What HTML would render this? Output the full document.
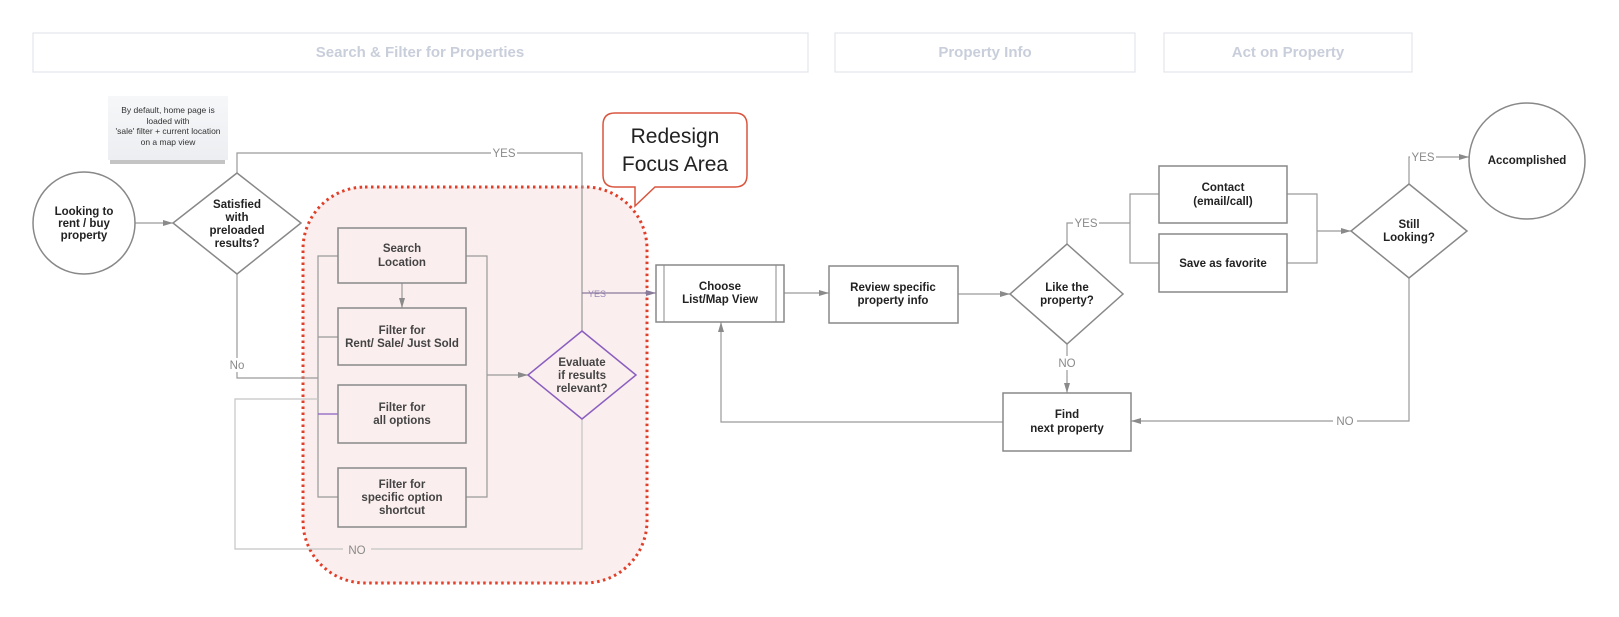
<!DOCTYPE html>
<html><head><meta charset="utf-8"><style>
html,body{margin:0;padding:0;background:#fff;}
svg{display:block;}
.b{font-family:"Liberation Sans",sans-serif;font-weight:bold;font-size:11.5px;fill:#222;text-anchor:middle;}
.l{font-family:"Liberation Sans",sans-serif;font-size:11.5px;fill:#8a8a8a;text-anchor:middle;}
.h{font-family:"Liberation Sans",sans-serif;font-weight:bold;font-size:15px;fill:#c9cedb;text-anchor:middle;}
</style></head><body>
<svg width="1619" height="617" viewBox="0 0 1619 617" xmlns="http://www.w3.org/2000/svg">
<defs>
<marker id="a" markerWidth="10" markerHeight="8" refX="10" refY="4" orient="auto" markerUnits="userSpaceOnUse"><path d="M0,1 L10,4 L0,7 Z" fill="#8a8a8a"/></marker>
<marker id="ap" markerWidth="10" markerHeight="8" refX="10" refY="4" orient="auto" markerUnits="userSpaceOnUse"><path d="M0,1 L10,4 L0,7 Z" fill="#8a7a9a"/></marker>
<linearGradient id="ng" x1="0" y1="0" x2="0" y2="1"><stop offset="0" stop-color="#f6f7f9"/><stop offset="1" stop-color="#eceef1"/></linearGradient>
</defs>
<!-- headers -->
<rect x="33" y="33" width="775" height="39" fill="#fff" stroke="#e2e5ec" stroke-width="1.2"/>
<text class="h" x="420" y="57">Search &amp; Filter for Properties</text>
<rect x="835" y="33" width="300" height="39" fill="#fff" stroke="#e2e5ec" stroke-width="1.2"/>
<text class="h" x="985" y="57">Property Info</text>
<rect x="1164" y="33" width="248" height="39" fill="#fff" stroke="#e2e5ec" stroke-width="1.2"/>
<text class="h" x="1288" y="57">Act on Property</text>

<!-- note -->
<rect x="110" y="160" width="115" height="4" fill="#555" opacity="0.35"/>
<rect x="108" y="96" width="120" height="64" fill="url(#ng)"/>
<g font-family="Liberation Sans,sans-serif" font-size="8.5" fill="#333" text-anchor="middle">
<text x="168" y="113">By default, home page is</text>
<text x="168" y="124">loaded with</text>
<text x="168" y="134">'sale' filter + current location</text>
<text x="168" y="145">on a map view</text>
</g>

<!-- focus area -->
<rect x="303" y="187" width="344" height="396" rx="62" fill="#fbeeee" stroke="#e0402a" stroke-width="3" stroke-dasharray="2.5 3.5"/>

<!-- callout -->
<path d="M615,113 H735 Q747,113 747,125 V175 Q747,187 735,187 H655 L635,206 L635,187 H615 Q603,187 603,175 V125 Q603,113 615,113 Z" fill="#fff" stroke="#d9553e" stroke-width="1.5"/>
<text x="675" y="143" font-family="Liberation Sans,sans-serif" font-size="21" fill="#222" text-anchor="middle">Redesign</text>
<text x="675" y="171" font-family="Liberation Sans,sans-serif" font-size="21" fill="#222" text-anchor="middle">Focus Area</text>

<g fill="none" stroke="#9a9a9a" stroke-width="1.2">
<!-- circle to diamond -->
<line x1="135" y1="223" x2="173" y2="223" marker-end="url(#a)"/>
<!-- YES top -->
<polyline points="237,173 237,153 582,153 582,331"/>
<!-- No -->
<polyline points="237,274 237,378 318,378"/>
<!-- left bus -->
<polyline points="338,256 318,256 318,497 338,497"/>
<line x1="318" y1="337" x2="338" y2="337"/>
<!-- right bus -->
<polyline points="466,256 487,256 487,497 466,497"/>
<line x1="487" y1="375" x2="528" y2="375" marker-end="url(#a)"/>
<line x1="402" y1="283" x2="402" y2="308" marker-end="url(#a)"/>
<!-- NO loop -->
<polyline points="582,419 582,549 235,549 235,399 318,399" stroke="#c4c4c4"/>
<!-- Choose->Review -->
<line x1="784" y1="293" x2="829" y2="293" marker-end="url(#a)"/>
<line x1="958" y1="294" x2="1010" y2="294" marker-end="url(#a)"/>
<!-- YES like -->
<polyline points="1067,244 1067,223 1130,223"/>
<polyline points="1159,194 1130,194 1130,263 1159,263"/>
<polyline points="1287,194 1317,194 1317,263 1287,263"/>
<line x1="1317" y1="231" x2="1351" y2="231" marker-end="url(#a)"/>
<!-- NO like -->
<line x1="1067" y1="344" x2="1067" y2="393" marker-end="url(#a)"/>
<!-- Still YES -->
<polyline points="1409,184 1409,157 1469,157" marker-end="url(#a)"/>
<!-- Still NO -->
<polyline points="1409,278 1409,421 1131,421" marker-end="url(#a)"/>
<!-- loop back -->
<polyline points="1003,422 721,422 721,322" marker-end="url(#a)"/>
</g>
<line x1="318" y1="414" x2="338" y2="414" stroke="#8a5fc0" stroke-width="1.2"/>
<line x1="582" y1="293" x2="656" y2="293" stroke="#8a7a9a" stroke-width="1.2" marker-end="url(#ap)"/>

<!-- labels with white bg -->
<rect x="491" y="146" width="26" height="13" fill="#fff"/>
<text class="l" x="504" y="157">YES</text>
<rect x="227" y="358" width="20" height="14" fill="#fff"/>
<text class="l" x="237" y="369">No</text>
<rect x="343" y="543" width="28" height="13" fill="#fbeeee"/>
<text class="l" x="357" y="554">NO</text>
<text x="597" y="297" font-family="Liberation Sans,sans-serif" font-size="9" fill="#9a84b5" text-anchor="middle">YES</text>
<rect x="1073" y="216" width="26" height="13" fill="#fff"/>
<text class="l" x="1086" y="227">YES</text>
<rect x="1055" y="356" width="24" height="14" fill="#fff"/>
<text class="l" x="1067" y="367">NO</text>
<rect x="1410" y="150" width="26" height="13" fill="#fff"/>
<text class="l" x="1423" y="161">YES</text>
<rect x="1333" y="414" width="24" height="14" fill="#fff"/>
<text class="l" x="1345" y="425">NO</text>

<!-- shapes -->
<g stroke="#888" stroke-width="1.5" fill="#fff">
<circle cx="84" cy="223" r="51"/>
<polygon points="237,173 301,223 237,274 173,223"/>
<rect x="338" y="228" width="128" height="55" fill="#fbeeee"/>
<rect x="338" y="308" width="128" height="57" fill="#fbeeee"/>
<rect x="338" y="385" width="128" height="58" fill="#fbeeee"/>
<rect x="338" y="468" width="128" height="59" fill="#fbeeee"/>
<rect x="656" y="265" width="128" height="57"/>
<line x1="664" y1="265" x2="664" y2="322" stroke-width="1"/>
<line x1="776" y1="265" x2="776" y2="322" stroke-width="1"/>
<rect x="829" y="266" width="129" height="57"/>
<polygon points="1067,244 1123,294 1067,344 1010,294"/>
<rect x="1159" y="166" width="128" height="57"/>
<rect x="1159" y="234" width="128" height="58"/>
<rect x="1003" y="393" width="128" height="58"/>
<polygon points="1409,184 1467,231 1409,278 1351,231"/>
<circle cx="1527" cy="161" r="58"/>
</g>
<polygon points="582,331 636,375 582,419 528,375" fill="#fbeeee" stroke="#8a5fc0" stroke-width="1.5"/>

<!-- texts -->
<text class="b" x="84" y="215">Looking to</text><text class="b" x="84" y="227">rent / buy</text><text class="b" x="84" y="239">property</text>
<text class="b" x="237" y="208">Satisfied</text><text class="b" x="237" y="221">with</text><text class="b" x="237" y="234">preloaded</text><text class="b" x="237" y="247">results?</text>
<g style="fill:#444"><text class="b" x="402" y="252" style="fill:#444">Search</text><text class="b" x="402" y="266" style="fill:#444">Location</text>
<text class="b" x="402" y="334" style="fill:#444">Filter for</text><text class="b" x="402" y="347" style="fill:#444">Rent/ Sale/ Just Sold</text>
<text class="b" x="402" y="411" style="fill:#444">Filter for</text><text class="b" x="402" y="424" style="fill:#444">all options</text>
<text class="b" x="402" y="488" style="fill:#444">Filter for</text><text class="b" x="402" y="501" style="fill:#444">specific option</text><text class="b" x="402" y="514" style="fill:#444">shortcut</text>
<text class="b" x="582" y="366" style="fill:#444">Evaluate</text><text class="b" x="582" y="379" style="fill:#444">if results</text><text class="b" x="582" y="392" style="fill:#444">relevant?</text></g>
<text class="b" x="720" y="290">Choose</text><text class="b" x="720" y="303">List/Map View</text>
<text class="b" x="893" y="291">Review specific</text><text class="b" x="893" y="304">property info</text>
<text class="b" x="1067" y="291">Like the</text><text class="b" x="1067" y="304">property?</text>
<text class="b" x="1223" y="191">Contact</text><text class="b" x="1223" y="205">(email/call)</text>
<text class="b" x="1223" y="267">Save as favorite</text>
<text class="b" x="1067" y="418">Find</text><text class="b" x="1067" y="432">next property</text>
<text class="b" x="1409" y="228">Still</text><text class="b" x="1409" y="241">Looking?</text>
<text class="b" x="1527" y="164">Accomplished</text>
</svg>
</body></html>
